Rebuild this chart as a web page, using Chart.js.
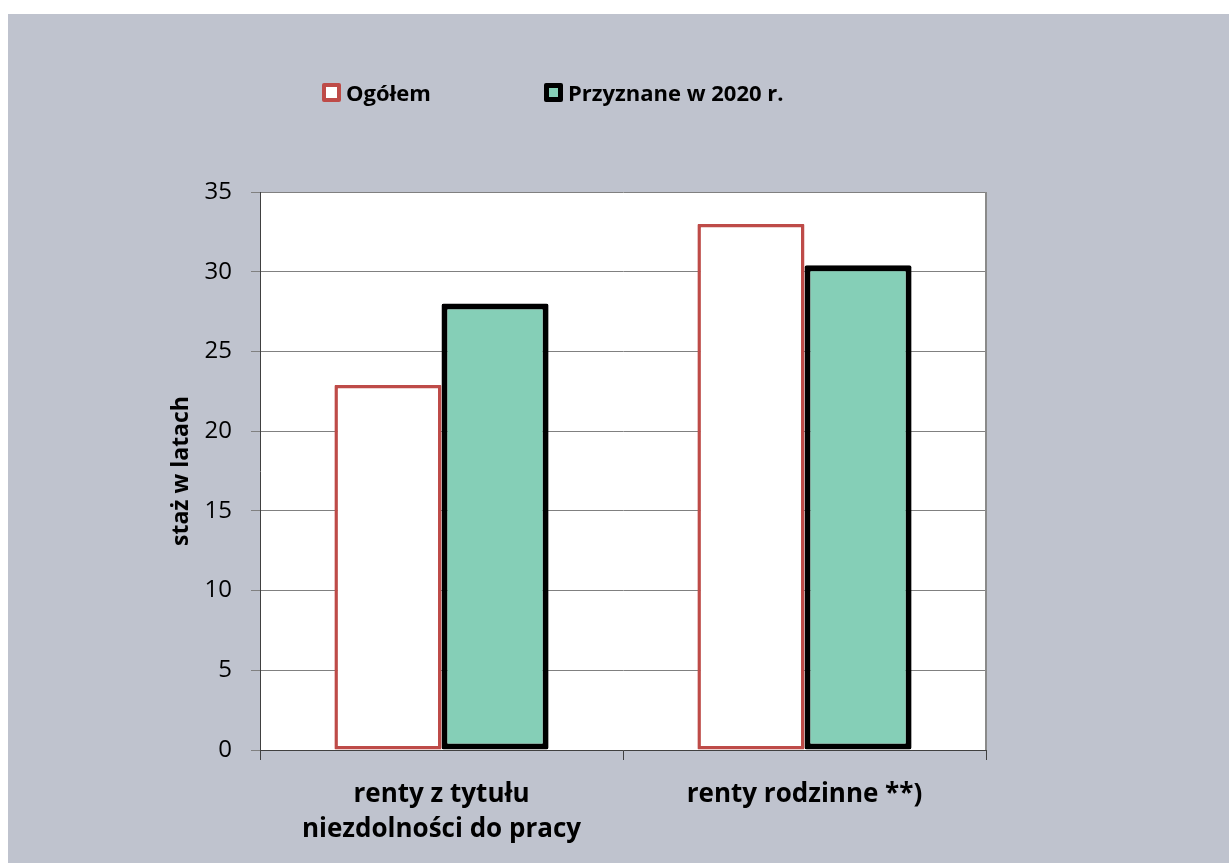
<!DOCTYPE html>
<html>
<head>
<meta charset="utf-8">
<script src="https://cdn.jsdelivr.net/npm/chart.js@4.4.1/dist/chart.umd.min.js"></script>
<style>
  html, body { margin: 0; padding: 0; background: #ffffff; width: 1229px; height: 863px; overflow: hidden; }
  #frame { position: absolute; left: 8px; top: 14px; width: 1221px; height: 849px; background: #bfc3ce; }
  #c { position: absolute; left: 0; top: 0; }
  #legend { position: absolute; top: 63px; left: 0; width: 1221px; height: 30px; font-family: "Open Sans", sans-serif; font-weight: bold; font-size: 22px; color: #000; }
  .item { position: absolute; top: 0; display: flex; align-items: center; height: 30px; }
  .box { width: 19px; height: 19px; box-sizing: border-box; margin-right: 5px; border-radius: 2px; }
</style>
</head>
<body>
<div id="frame">
  <canvas id="c" width="1221" height="849"></canvas>
  <div id="legend"></div>
</div>
<script>
const categories = [['renty z tytułu', 'niezdolności do pracy'], 'renty rodzinne **)'];
const seriesNames = ['Ogółem', 'Przyznane w 2020 r.'];
const ogolem = [22.9, 33.0];
const przyznane = [28.0, 30.4];
const yAxisTitle = 'staż w latach';
const yMin = 0, yMax = 35, yStep = 5;

const FONT = '"Open Sans", sans-serif';
const colors = {
  ogolemBorder: '#be4b48', ogolemFill: '#ffffff',
  przBorder: '#000000', przFill: '#85cfb7'
};

// HTML legend
const legend = document.getElementById('legend');
const legendItems = [
  { name: seriesNames[0], border: colors.ogolemBorder, fill: colors.ogolemFill, bw: 4, left: 314 },
  { name: seriesNames[1], border: colors.przBorder, fill: colors.przFill, bw: 5, left: 536 }
];
legendItems.forEach(it => {
  const d = document.createElement('div');
  d.className = 'item';
  d.style.left = it.left + 'px';
  const b = document.createElement('div');
  b.className = 'box';
  b.style.border = it.bw + 'px solid ' + it.border;
  b.style.background = it.fill;
  const t = document.createElement('span');
  t.textContent = it.name;
  d.appendChild(b); d.appendChild(t);
  legend.appendChild(d);
});

const areaPlugin = {
  id: 'areaPlugin',
  beforeDraw(chart) {
    const { ctx, chartArea: a } = chart;
    ctx.save();
    ctx.fillStyle = '#ffffff';
    ctx.fillRect(a.left, a.top, a.right - a.left, a.bottom - a.top);
    ctx.restore();
  },
  afterDraw(chart) {
    const { ctx, chartArea: a } = chart;
    ctx.save();
    ctx.strokeStyle = '#8a8a8a';
    ctx.lineWidth = 2;
    ctx.beginPath();
    ctx.moveTo(a.right, a.top);
    ctx.lineTo(a.right, a.bottom);
    ctx.stroke();
    ctx.restore();
  }
};

new Chart(document.getElementById('c'), {
  type: 'bar',
  data: {
    labels: categories,
    datasets: [
      { label: seriesNames[0], data: ogolem, backgroundColor: colors.ogolemFill, borderColor: colors.ogolemBorder, borderWidth: 3.5, borderSkipped: false, borderRadius: 1 },
      { label: seriesNames[1], data: przyznane, backgroundColor: colors.przFill, borderColor: colors.przBorder, borderWidth: 6, borderSkipped: false, borderRadius: 2 }
    ]
  },
  options: {
    responsive: false,
    animation: false,
    devicePixelRatio: 1,
    layout: { padding: { left: 156, right: 243, top: 178, bottom: 13 } },
    datasets: { bar: { categoryPercentage: 0.59, barPercentage: 1.0 } },
    plugins: { legend: { display: false }, tooltip: { enabled: false } },
    scales: {
      x: {
        offset: true,
        grid: { display: true, drawOnChartArea: false, drawTicks: true, tickLength: 10, color: '#404040', offset: true },
        border: { display: true, color: '#404040', width: 1 },
        ticks: { color: '#000', padding: 17, font: { family: FONT, size: 26, weight: 'bold', lineHeight: 1.35 }, maxRotation: 0, autoSkip: false },
        afterFit(s) { s.height = 100; }
      },
      y: {
        min: yMin, max: yMax,
        ticks: { stepSize: yStep, color: '#000', padding: 19, font: { family: FONT, size: 24 } },
        grid: { color: '#808080', lineWidth: 1, tickLength: 9, drawTicks: true },
        border: { display: true, color: '#404040', width: 1 },
        title: { display: true, text: yAxisTitle, color: '#000', padding: { top: 4, bottom: 4 }, font: { family: FONT, size: 23, weight: 'bold' } },
        afterFit(s) { s.width = 96; }
      }
    }
  },
  plugins: [areaPlugin]
});
</script>
</body>
</html>
